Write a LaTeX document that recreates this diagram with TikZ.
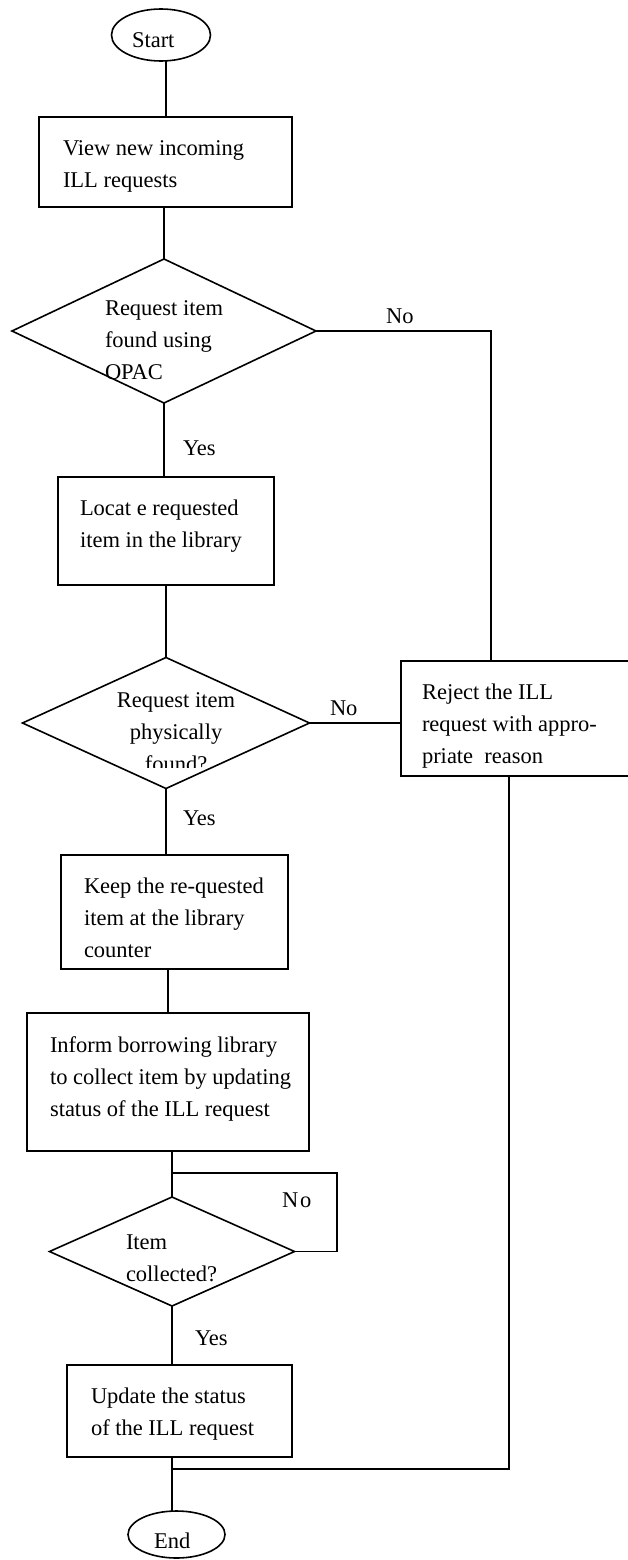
\documentclass[tikz,border=0pt]{standalone}
\usepackage{fontspec}
\setmainfont{Liberation Serif}
\usetikzlibrary{shapes.geometric}
\begin{document}
\begin{tikzpicture}[x=1pt,y=-1pt,
  every node/.style={inner sep=0pt,outer sep=0pt},
  flow/.style={line width=1.6pt,line join=miter},
  procbox/.style={draw,rectangle,line width=1.6pt},
  decision/.style={draw,diamond,line width=1.6pt},
  terminal/.style={draw,ellipse,line width=1.6pt},
  txt/.style={anchor=north west,align=left,font=\fontsize{22.5}{32}\selectfont},
  ctxt/.style={anchor=north,align=center,font=\fontsize{22.5}{32}\selectfont},
  lbl/.style={anchor=base west,font=\fontsize{22.5}{32}\selectfont}]

% page area
\clip (0,0) rectangle (628,1560);
\fill[white] (0,0) rectangle (628,1560);

% terminals
\node[terminal,minimum width=99pt,minimum height=52pt] (st) at (161,35) {};
\node[lbl] (stt) at (132,48) {Start};
\node[terminal,minimum width=97pt,minimum height=47pt] (en) at (176.5,1534.5) {};
\node[lbl] (ent) at (154,1548) {End};

% process boxes
\node[procbox,minimum width=253pt,minimum height=90pt] (b1) at (165.5,162) {};
\node[txt] (b1t) at (63,132.6) {\strut View new incoming\\ILL requests};

\node[procbox,minimum width=216pt,minimum height=108pt] (b2) at (166,531) {};
\node[txt] (b2t) at (80,492.6) {\strut Locat e requested\\item in the library};

\node[procbox,minimum width=227pt,minimum height=114pt] (b3) at (174.5,912) {};
\node[txt] (b3t) at (84,870.6) {\strut Keep the re-quested\\item at the library\\counter};

\node[procbox,minimum width=282pt,minimum height=138pt] (b4) at (168,1082) {};
\node[txt] (b4t) at (50,1029.6) {\strut Inform borrowing library\\to collect item by updating\\status of the ILL request};

\node[procbox,minimum width=225pt,minimum height=92pt] (b5) at (179.5,1411) {};
\node[txt] (b5t) at (91,1380.6) {\strut Update the status\\of the ILL request};

\node[procbox,minimum width=239pt,minimum height=115pt] (rj) at (520.5,718.5) {};
\node[txt] (rjt) at (422,676.6) {\strut Reject the ILL\\request with appro-\\priate\ \ reason};

% decisions
\node[decision,minimum width=304pt,minimum height=144pt] (d1) at (164,331) {};
\node[txt] (d1t) at (105,292.6) {\strut Request item\\found using\\OPAC};

\node[decision,minimum width=287pt,minimum height=131pt] (d2) at (166,723) {};
\begin{scope}
  \clip (100,600) rectangle (260,767);
  \node[ctxt] (d2t) at (176,684.6) {\strut Request item\\physically\\found?};
\end{scope}

\node[decision,minimum width=245pt,minimum height=109pt] (d3) at (172,1251.5) {};
\node[txt] (d3t) at (126,1226.6) {\strut Item\\collected?};

% branch labels
\node[lbl] (no1) at (386,323) {No};
\node[lbl] (no2) at (330,715) {No};
\node[lbl] (no3) at (282,1207) {N\kern2pt o};
\node[lbl] (yes1) at (183,455) {Yes};
\node[lbl] (yes2) at (183,825) {Yes};
\node[lbl] (yes3) at (195,1345) {Yes};

% junction points
\coordinate (j1) at (491,331);
\coordinate (j2) at (172,1173);
\coordinate (j3) at (337,1173);
\coordinate (j4) at (509,1469);
\coordinate (j5) at (172,1469);

% connectors
\draw[flow] (st.-79) -- (st.-79 |- b1.north);
\draw[flow] (d1.north |- b1.south) -- (d1.north);
\draw[flow] (d1.south) -- (d1.south |- b2.north);
\draw[flow] (d2.north |- b2.south) -- (d2.north);
\draw[flow] (d2.south) -- (d2.south |- b3.north);
\draw[flow] (b4.north |- b3.south) -- (b4.north);
\draw[flow] (j2 |- b4.south) -- (j2) -- (d3.north);
\draw[flow] (d3.south) -- (d3.south |- b5.north);
\draw[flow] (j5 |- b5.south) -- (j5) -- (j5 |- en.north);

% "No" branches
\draw[flow] (d1.east) -- (j1) -- (j1 |- rj.north);
\draw[flow] (d2.east) -- (d2.east -| rj.west);
\draw[flow] (j2) -- (j3) |- (d3.east);
\draw[flow] (j4 |- rj.south) -- (j4) -- (j5);
\end{tikzpicture}
\end{document}
